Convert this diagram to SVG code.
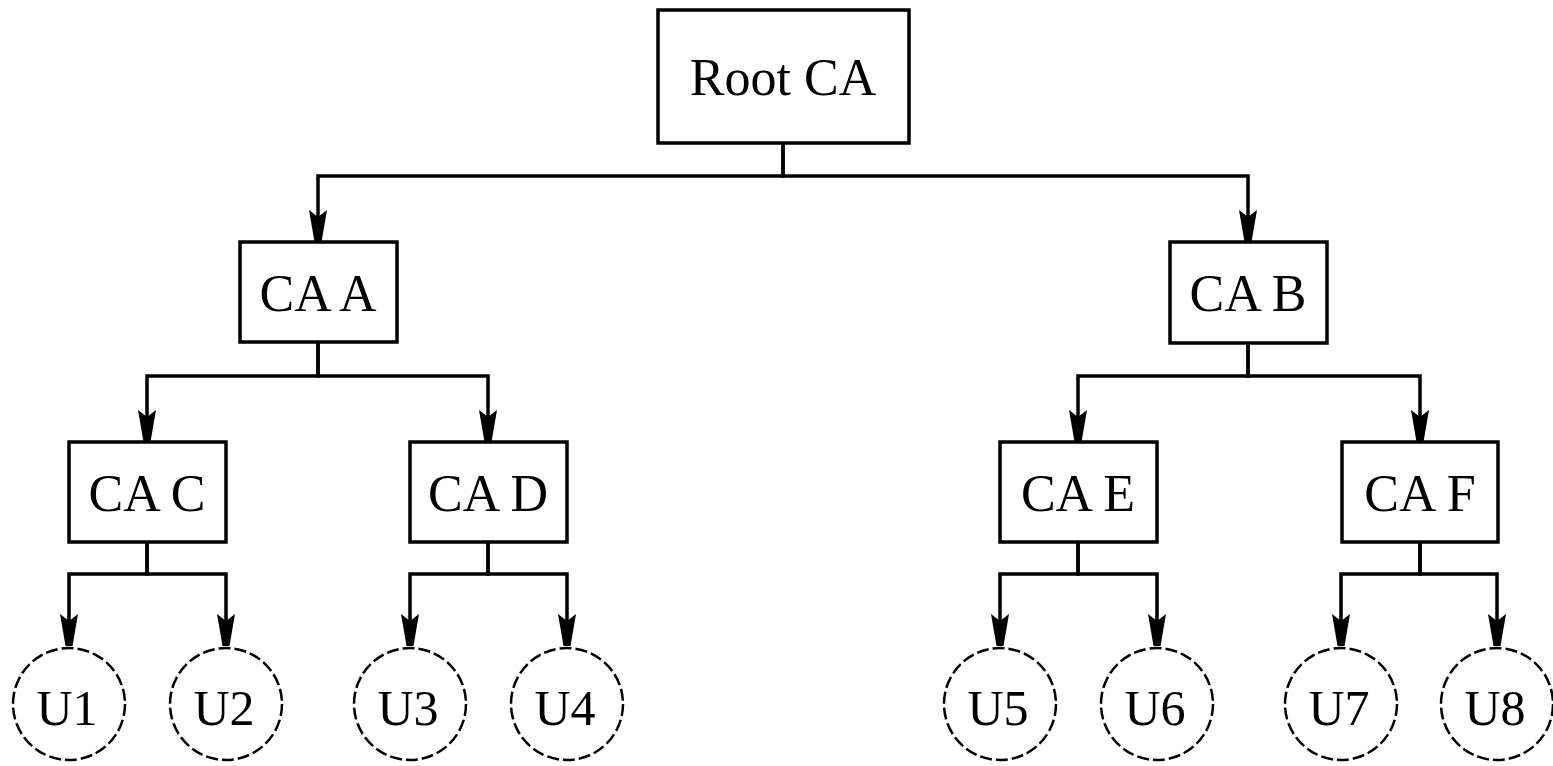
<svg xmlns="http://www.w3.org/2000/svg" width="1553" height="766" viewBox="0 0 1553 766">
<style>
.box{fill:#fff;stroke:#000;stroke-width:3.5}
.usr{fill:#fff;stroke:#000;stroke-width:2.5;stroke-dasharray:12 4}
.lbl{font-family:"Liberation Serif","Times New Roman",serif;font-size:52px;fill:#000;text-anchor:middle}
.ulbl{font-family:"Liberation Serif","Times New Roman",serif;font-size:50px;fill:#000;text-anchor:middle}
.edge{fill:none;stroke:#000;stroke-width:3.5;marker-end:url(#arr)}
</style>
<defs>
<marker id="arr" markerUnits="userSpaceOnUse" orient="auto" refX="0" refY="0" markerWidth="40" markerHeight="20" style="overflow:visible">
<path d="M0,-3.5 L0,3.5 L-32,9 L-25,0 L-32,-9 Z" fill="#000"/>
</marker>
</defs>
<rect width="1553" height="766" fill="#fff"/>
<g id="connectors">
<path class="edge" d="M783,143 V176 H318 V242"/>
<path class="edge" d="M783,143 V176 H1248 V242"/>
<path class="edge" d="M318,342 V376 H147 V442"/>
<path class="edge" d="M318,342 V376 H488 V442"/>
<path class="edge" d="M1248,343 V376 H1078 V442"/>
<path class="edge" d="M1248,343 V376 H1420 V442"/>
<path class="edge" d="M147,542 V574 H69 V646"/>
<path class="edge" d="M147,542 V574 H226 V646"/>
<path class="edge" d="M488,542 V574 H410 V646"/>
<path class="edge" d="M488,542 V574 H567 V646"/>
<path class="edge" d="M1078,542 V574 H1000 V646"/>
<path class="edge" d="M1078,542 V574 H1157 V646"/>
<path class="edge" d="M1420,542 V574 H1341 V646"/>
<path class="edge" d="M1420,542 V574 H1497 V646"/>
</g>
<g id="root"><rect class="box" x="658" y="10" width="251" height="133"/><text class="lbl" x="783" y="95">Root CA</text></g>
<g id="caA"><rect class="box" x="240" y="242" width="157" height="100"/><text class="lbl" x="318" y="311">CA A</text></g>
<g id="caB"><rect class="box" x="1170" y="242" width="157" height="101"/><text class="lbl" x="1248" y="311">CA B</text></g>
<g id="caC"><rect class="box" x="69" y="442" width="157" height="100"/><text class="lbl" x="147" y="511">CA C</text></g>
<g id="caD"><rect class="box" x="410" y="442" width="157" height="100"/><text class="lbl" x="488" y="511">CA D</text></g>
<g id="caE"><rect class="box" x="1000" y="442" width="157" height="100"/><text class="lbl" x="1078" y="511">CA E</text></g>
<g id="caF"><rect class="box" x="1342" y="442" width="156" height="100"/><text class="lbl" x="1420" y="511">CA F</text></g>
<g id="u1"><circle class="usr" cx="69" cy="704" r="56"/><text class="ulbl" x="67" y="725">U1</text></g>
<g id="u2"><circle class="usr" cx="226" cy="704" r="56"/><text class="ulbl" x="224" y="725">U2</text></g>
<g id="u3"><circle class="usr" cx="410" cy="704" r="56"/><text class="ulbl" x="408" y="725">U3</text></g>
<g id="u4"><circle class="usr" cx="567" cy="704" r="56"/><text class="ulbl" x="565" y="725">U4</text></g>
<g id="u5"><circle class="usr" cx="1000" cy="704" r="56"/><text class="ulbl" x="998" y="725">U5</text></g>
<g id="u6"><circle class="usr" cx="1157" cy="704" r="56"/><text class="ulbl" x="1155" y="725">U6</text></g>
<g id="u7"><circle class="usr" cx="1341" cy="704" r="56"/><text class="ulbl" x="1339" y="725">U7</text></g>
<g id="u8"><circle class="usr" cx="1497" cy="704" r="56"/><text class="ulbl" x="1495" y="725">U8</text></g>
</svg>
